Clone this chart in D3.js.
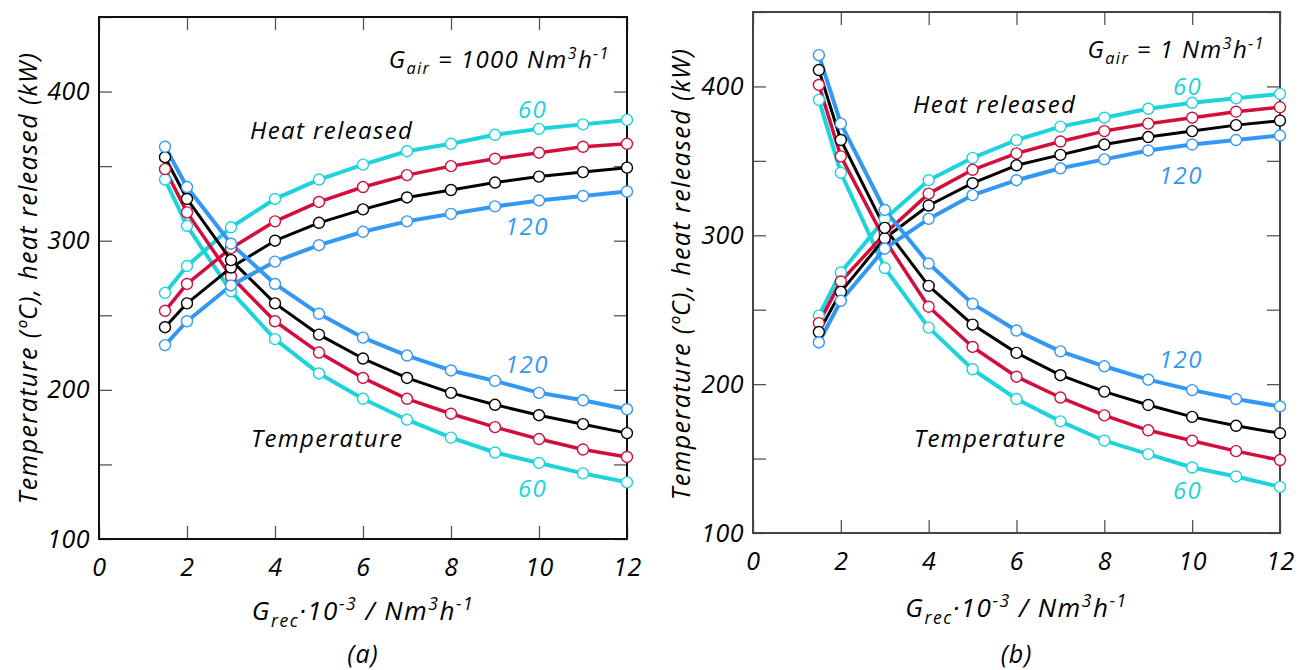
<!DOCTYPE html>
<html>
<head>
<meta charset="utf-8">
<script src="https://cdn.jsdelivr.net/npm/d3@7"></script>
<style>
  body { margin: 0; background: #fff; }
  svg { font-family: "Open Sans", sans-serif; font-style: italic; }
</style>
</head>
<body>
<svg id="chart" width="1304" height="670"></svg>
<script>
// recirculation flow, x 10^-3 Nm3/h
var xVals = [1.5, 2, 3, 4, 5, 6, 7, 8, 9, 10, 11, 12];
var seriesKeys = ["60", "80", "100", "120"];
var seriesColors = ["#1ed3dc", "#d20f3c", "#000000", "#3398f4"];
var yTicks = [100, 150, 200, 250, 300, 350, 400, 450];
var xTicks = [0, 2, 4, 6, 8, 10, 12];

// panel (a), G_air = 1000
var heatA60 = [265, 283, 309, 328, 341, 351, 360, 365, 371, 375, 378, 381];
var heatA80 = [253, 271, 295, 313, 326, 336, 344, 350, 355, 359, 363, 365];
var heatA100 = [242, 258, 282, 300, 312, 321, 329, 334, 339, 343, 346, 349];
var heatA120 = [230, 246, 270, 286, 297, 306, 313, 318, 323, 327, 330, 333];
var tempA60 = [341, 310, 266, 234, 211, 194, 180, 168, 158, 151, 144, 138];
var tempA80 = [348, 319, 276, 246, 225, 208, 194, 184, 175, 167, 160, 155];
var tempA100 = [356, 328, 287, 258, 237, 221, 208, 198, 190, 183, 177, 171];
var tempA120 = [363, 336, 298, 271, 251, 235, 223, 213, 206, 198, 193, 187];

// panel (b), G_air = 1
var heatB60 = [246, 275, 311, 337, 352, 364, 373, 379, 385, 389, 392, 395];
var heatB80 = [241, 269, 301, 328, 344, 355, 363, 370, 375, 379, 383, 386];
var heatB100 = [235, 262, 298, 320, 335, 347, 354, 361, 366, 370, 374, 377];
var heatB120 = [228, 256, 291, 311, 327, 337, 345, 351, 357, 361, 364, 367];
var tempB60 = [391, 342, 278, 238, 210, 190, 175, 162, 153, 144, 138, 131];
var tempB80 = [401, 353, 297, 252, 225, 205, 191, 179, 169, 162, 155, 149];
var tempB100 = [411, 364, 305, 266, 240, 221, 206, 195, 186, 178, 172, 167];
var tempB120 = [421, 375, 317, 281, 254, 236, 222, 212, 203, 196, 190, 185];

var svg = d3.select("#chart");

var panels = [
  {left: 99, right: 627, top: 17, bottom: 539, frame: "#111", gair: "1000", tag: "(a)",
   gairX: 610, gairY: 68, xTitleY: 620, yTitleX: 37, yTitleY: 278,
   heat: [heatA60, heatA80, heatA100, heatA120], temp: [tempA60, tempA80, tempA100, tempA120],
   notes: [
     {t: "Heat released", x: 250, y: 139, c: "#000"},
     {t: "60", x: 518, y: 118, c: seriesColors[0]},
     {t: "120", x: 505, y: 235, c: seriesColors[3]},
     {t: "120", x: 505, y: 373, c: seriesColors[3]},
     {t: "Temperature", x: 251, y: 447, c: "#000"},
     {t: "60", x: 518, y: 497, c: seriesColors[0]}
   ]},
  {left: 753, right: 1280, top: 12, bottom: 533, frame: "#444", gair: "1", tag: "(b)",
   gairX: 1265, gairY: 58, xTitleY: 617, yTitleX: 690, yTitleY: 274,
   heat: [heatB60, heatB80, heatB100, heatB120], temp: [tempB60, tempB80, tempB100, tempB120],
   notes: [
     {t: "Heat released", x: 913, y: 113, c: "#000"},
     {t: "60", x: 1173, y: 95, c: seriesColors[0]},
     {t: "120", x: 1159, y: 184, c: seriesColors[3]},
     {t: "120", x: 1159, y: 368, c: seriesColors[3]},
     {t: "Temperature", x: 914, y: 447, c: "#000"},
     {t: "60", x: 1173, y: 499, c: seriesColors[0]}
   ]}
];

// text with sub/superscripts, parts = [[text, shift]]; shift: 0 normal, 1 sup, -1 sub
function richText(g, parts, size) {
  var cur = 0;
  parts.forEach(function (p) {
    var target = p[1] === 1 ? -0.38 * size : (p[1] === -1 ? 0.25 * size : 0);
    g.append("tspan")
      .attr("dy", target - cur)
      .style("font-size", p[1] === 0 ? size + "px" : (size * 0.68) + "px")
      .text(p[0]);
    cur = target;
  });
}

panels.forEach(function (p) {
  var x = d3.scaleLinear().domain([0, 12]).range([p.left, p.right]);
  var y = d3.scaleLinear().domain([100, 450]).range([p.bottom, p.top]);
  var g = svg.append("g");

  // inward ticks on all four sides
  var tickFmt = function (d) { return d % 100 === 0 && d < 450 ? d : ""; };
  g.append("g").attr("transform", "translate(" + p.left + ",0)")
    .call(d3.axisLeft(y).tickValues(yTicks).tickSize(-13).tickPadding(9).tickFormat(tickFmt));
  g.append("g").attr("transform", "translate(" + p.right + ",0)")
    .call(d3.axisRight(y).tickValues(yTicks).tickSize(-13).tickFormat(""));
  g.append("g").attr("transform", "translate(0," + p.bottom + ")")
    .call(d3.axisBottom(x).tickValues(xTicks).tickSize(-13).tickPadding(19));
  g.append("g").attr("transform", "translate(0," + p.top + ")")
    .call(d3.axisTop(x).tickValues(xTicks).tickSize(-13).tickFormat(""));
  g.selectAll(".domain").remove();
  g.selectAll(".tick line").attr("stroke", "#555").attr("stroke-width", 1.3);
  g.selectAll(".tick text").attr("fill", "#000")
    .style("font-family", "'Open Sans', sans-serif").style("font-style", "italic")
    .style("font-size", "25px").style("letter-spacing", "0.5px");

  g.append("rect")
    .attr("x", p.left).attr("y", p.top)
    .attr("width", p.right - p.left).attr("height", p.bottom - p.top)
    .attr("fill", "none").attr("stroke", p.frame).attr("stroke-width", 2);

  var line = d3.line().x(function (d, i) { return x(xVals[i]); }).y(function (d) { return y(d); });

  [0, 1, 2, 3].forEach(function (k) {
    var col = seriesColors[k];
    var w = k === 2 ? 3 : (k === 1 ? 3.5 : 4);
    [p.heat[k], p.temp[k]].forEach(function (vals) {
      g.append("path").datum(vals)
        .attr("d", line).attr("fill", "none")
        .attr("stroke", col).attr("stroke-width", w).attr("stroke-linejoin", "round");
    });
  });
  [0, 1, 2, 3].forEach(function (k) {
    var col = seriesColors[k];
    [p.heat[k], p.temp[k]].forEach(function (vals) {
      g.selectAll(null).data(vals).enter().append("circle")
        .attr("cx", function (d, i) { return x(xVals[i]); })
        .attr("cy", function (d) { return y(d); })
        .attr("r", 5.5)
        .attr("fill", "#fff").attr("stroke", col).attr("stroke-width", 1.4);
    });
  });

  p.notes.forEach(function (n) {
    g.append("text").attr("x", n.x).attr("y", n.y)
      .attr("fill", n.c).style("font-size", "24px").style("letter-spacing", "1.4px").text(n.t);
  });

  // G_air label
  var ga = g.append("text").attr("x", p.gairX).attr("y", p.gairY)
    .attr("text-anchor", "end").style("font-size", "24px").style("letter-spacing", "1.4px");
  richText(ga, [["G", 0], ["air", -1], [" = " + p.gair + " Nm", 0], ["3", 1], ["h", 0], ["-1", 1]], 24);

  // axis titles
  var cx = (p.left + p.right) / 2;
  var xt = g.append("text").attr("x", cx).attr("y", p.xTitleY)
    .attr("text-anchor", "middle").style("font-size", "26px").style("letter-spacing", "1.5px");
  richText(xt, [["G", 0], ["rec", -1], ["\u00b710", 0], ["-3", 1], [" / Nm", 0], ["3", 1], ["h", 0], ["-1", 1]], 26);

  g.append("text")
    .attr("transform", "translate(" + p.yTitleX + "," + p.yTitleY + ") rotate(-90)")
    .attr("text-anchor", "middle").style("font-size", "25px").style("letter-spacing", "1.4px")
    .text("Temperature (\u00baC), heat released (kW)");

  g.append("text").attr("x", cx).attr("y", 663)
    .attr("text-anchor", "middle").style("font-size", "25px").style("letter-spacing", "1px").text(p.tag);
});
</script>
</body>
</html>
